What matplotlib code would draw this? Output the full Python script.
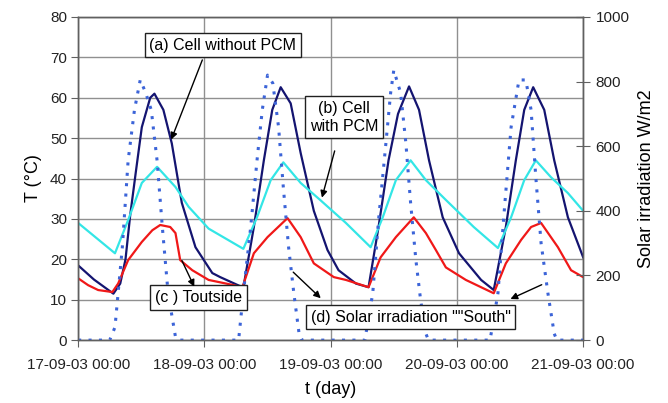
import matplotlib.pyplot as plt

plt.rcParams['font.family'] = ['Liberation Sans', 'DejaVu Sans']

# hours counted from 17-09-03 00:00
day_labels = ['17-09-03 00:00', '18-09-03 00:00', '19-09-03 00:00',
              '20-09-03 00:00', '21-09-03 00:00']

# (a) cell without PCM
h_nopcm = [0, 3, 6.7, 8, 9, 9.9, 10.9, 12.1, 13.7, 14.5, 16.2, 17.8, 19.7, 22.3, 25.5,
           27, 31.4, 33.4, 35.3, 36.9, 38.5, 40.4, 42.3, 44.8, 47.4, 49.5,
           52.8, 55.2, 57.1, 59, 60.8, 62.9, 64.8, 66.7, 69.3, 72.4,
           76.6, 79, 81.3, 83.2, 84.8, 86.5, 88.6, 90.5, 93.1, 96]
t_nopcm = [18.5, 15, 11.5, 14, 20, 31, 41, 52.7, 60, 61, 57, 48.7, 34, 23, 16.6,
           15.6, 13, 28, 44.5, 57, 62.6, 58.6, 46.3, 32, 22.3, 17.3,
           14, 13.1, 28, 44.5, 56, 62.8, 57, 44.5, 30.4, 21.5,
           14.9, 12.4, 28, 44.5, 57, 62.6, 57, 44.5, 30.4, 20.5]

# (b) cell with PCM
h_pcm = [0, 7, 9.5, 12.1, 15, 18.5, 21, 24.8, 31.4, 34, 36.6, 39, 42.3, 46,
         50.9, 55.6, 57.9, 60.4, 63.2, 66.1, 69.9, 75.2, 79.8, 82.3, 84.8, 87,
         89.9, 93.1, 96]
t_pcm = [29, 21.5, 29.7, 38.9, 42.9, 37.9, 33, 27.6, 22.6, 30.4, 39.6, 44, 38.9, 34.7,
         29, 23, 30.4, 39.6, 44.5, 39.6, 34.7, 28, 22.8, 30.4, 39.6, 44.5,
         40.3, 36.4, 32]

# (c) outside temperature
h_out = [0, 1.9, 3.8, 6.5, 7.6, 9.5, 12.1, 14.1, 15.6, 17.5, 18.5, 19.4, 21.7, 24.8,
         29.6, 31.2, 33.4, 36, 39.8, 42.3, 44.8, 48.6, 50.9, 55.2, 57.5, 60.4,
         63.8, 66.1, 68, 69.9, 73.7, 79, 81.3, 84.2, 86.1, 88, 91.2, 93.7, 96]
t_out = [15.3, 13.6, 12.4, 11.9, 14, 19.8, 24.3, 27.2, 28.5, 28, 26.5, 19.8, 17.3, 14.9,
         13.6, 13, 21.5, 25.5, 30.2, 25.5, 19, 15.6, 14.9, 13.1, 20.5, 25.5,
         30.4, 26.5, 22.3, 18, 14.9, 11.6, 19, 24.8, 28, 29, 23, 17.3, 15.6]

# (d) solar irradiation south, W/m2
h_sol = [0, 6.0, 7.0, 8.4, 9.5, 10.7, 11.8, 12.8, 13.9, 15, 16, 17.1, 18.5, 19,
         30.5, 31.4, 32.8, 34, 35, 36, 37, 38.1, 39, 40, 41, 42, 42.5,
         54.5, 56, 57.1, 58.5, 59.4, 60, 61.3, 62.3, 63.2, 64.2, 65.1, 66.1, 66.6,
         78.3, 79.8, 81, 82.3, 83.8, 85.1, 86.1, 87, 88, 89.3, 90.5, 91, 96]
sol = [0, 0, 40, 288, 556, 712, 805, 767, 712, 556, 350, 145, 10, 0,
       0, 145, 350, 556, 712, 820, 795, 659, 473, 288, 145, 20, 0,
       0, 145, 371, 609, 765, 835, 765, 609, 424, 248, 124, 20, 0,
       0, 145, 400, 659, 805, 805, 712, 504, 300, 145, 20, 0, 0]

fig = plt.figure(figsize=(6.68, 4.03), dpi=100)
ax = fig.add_axes([0.117, 0.156, 0.756, 0.802])
ax2 = ax.twinx()

ax.plot(h_nopcm, t_nopcm, color='#141470', lw=1.6)
ax.plot(h_pcm, t_pcm, color='#33e6e6', lw=1.6)
ax.plot(h_out, t_out, color='#f01818', lw=1.6)
ax2.plot(h_sol, sol, color='#3c64d8', lw=2.2, linestyle=(0, (1.0, 2.4)))

ax.set_xlim(0, 96)
ax.set_ylim(0, 80)
ax2.set_ylim(0, 1000)
ax.set_xticks([0, 24, 48, 72, 96])
ax.set_xticklabels(day_labels)
ax.set_yticks(range(0, 81, 10))
ax2.set_yticks(range(0, 1001, 200))
ax.grid(True, color='#909090', lw=1.0)
ax.set_axisbelow(True)

for a in (ax, ax2):
    for s in a.spines.values():
        s.set_color('#606060')
        s.set_linewidth(1.0)
ax.tick_params(labelsize=11, color='#606060', labelcolor='#222222',
               direction='out', length=5, pad=3)
ax2.tick_params(labelsize=11, color='#606060', labelcolor='#222222',
                direction='inout', length=10, pad=4)
ax.tick_params(axis='x', pad=8)

ax.set_xlabel('t (day)', fontsize=13, labelpad=6)
ax.set_ylabel('T (°C)', fontsize=13, labelpad=6)
ax2.set_ylabel('Solar irradiation W/m2', fontsize=13, labelpad=6)

box = dict(boxstyle='square,pad=0.3', fc='white', ec='#202020', lw=1.0)
arr = dict(arrowstyle='-|>', color='black', lw=1.0, mutation_scale=10)
tr = ax.transData

ax2.text(27.5, 73, '(a) Cell without PCM', transform=tr, fontsize=11.5,
         ha='center', va='center', bbox=box, zorder=5)
ax2.annotate('', xy=(17.5, 49), xycoords=tr, xytext=(23.8, 70),
             textcoords=tr, arrowprops=arr, zorder=5)

ax2.text(50.5, 55.2, '(b) Cell\nwith PCM', transform=tr, fontsize=11.5,
         ha='center', va='center', bbox=box, zorder=5, linespacing=1.25)
ax2.annotate('', xy=(46.2, 34.6), xycoords=tr, xytext=(48.9, 47.5),
             textcoords=tr, arrowprops=arr, zorder=5)

ax2.text(22.9, 10.6, '(c ) Toutside', transform=tr, fontsize=11.5,
         ha='center', va='center', bbox=box, zorder=5)
ax2.annotate('', xy=(22.3, 12.6), xycoords=tr, xytext=(19.5, 20.3),
             textcoords=tr, arrowprops=arr, zorder=5)

ax2.text(63.2, 5.7, '(d) Solar irradiation ""South"', transform=tr, fontsize=11.5,
         ha='center', va='center', bbox=box, zorder=5)
ax2.annotate('', xy=(46.5, 9.9), xycoords=tr, xytext=(40.5, 17.3),
             textcoords=tr, arrowprops=arr, zorder=5)
ax2.annotate('', xy=(81.7, 9.9), xycoords=tr, xytext=(88.6, 14.0),
             textcoords=tr, arrowprops=arr, zorder=5)

fig.savefig('out.png', dpi=100)
